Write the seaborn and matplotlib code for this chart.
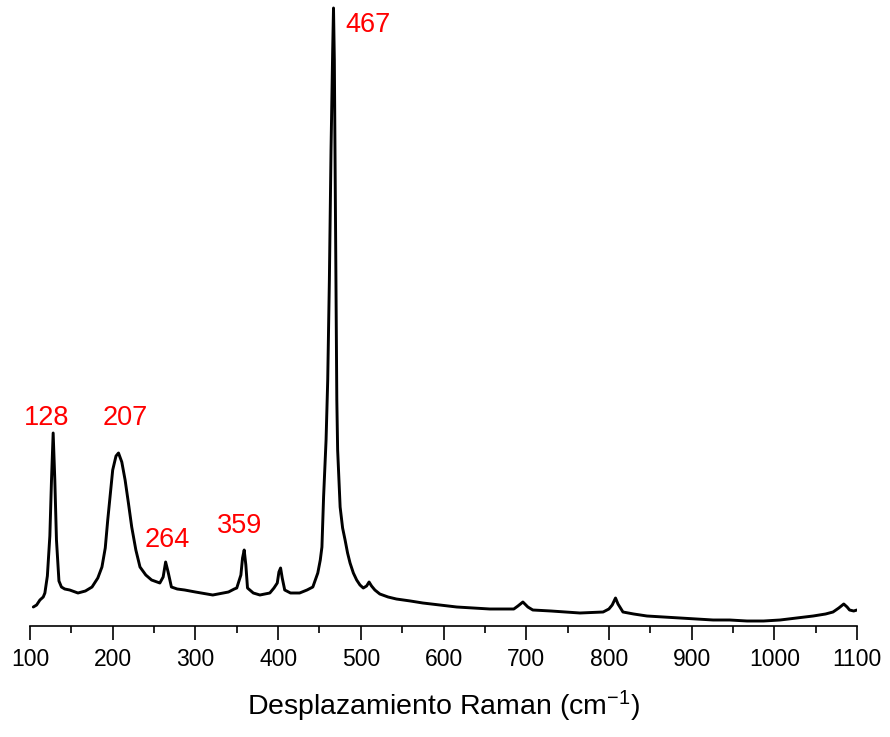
import pandas as pd
import matplotlib
matplotlib.use("Agg")
import matplotlib.pyplot as plt
from matplotlib.ticker import MultipleLocator
import seaborn as sns

# Raman shift (cm^-1) and intensity (a.u.) of the measured spectrum
shift = [104, 108, 112, 116, 118, 121, 124, 126, 128, 130, 132, 135, 138, 142,
         148, 158, 167, 175, 182, 187, 191, 194, 197, 200, 204, 207, 211, 215,
         219, 223, 228, 233, 240, 247, 257, 261, 264, 267, 271, 278, 287, 300,
         321, 340, 347, 350, 355, 357, 359, 361, 363, 370, 378, 390, 395, 399,
         401, 403, 405, 408, 415, 426, 435, 442, 448, 451, 453, 455, 458, 460,
         462, 464, 466, 467, 468, 469, 470, 471, 472, 475, 478, 481, 484, 487,
         491, 495, 499, 503, 507, 510, 513, 517, 523, 533, 543, 560, 575, 595,
         616, 636, 656, 675, 685, 690, 696, 702, 708, 730, 765, 793, 800, 804,
         808, 811, 817, 830, 846, 866, 886, 906, 926, 946, 967, 987, 1007, 1027,
         1047, 1062, 1071, 1078, 1084, 1088, 1091, 1096, 1100]
intensity = [19, 21, 26, 29, 33, 50, 90, 146, 193, 146, 86, 45, 39, 37,
             36, 33, 35, 39, 48, 59, 78, 106, 131, 156, 170, 173, 164, 146,
             123, 99, 76, 59, 51, 46, 43, 49, 64, 54, 39, 37, 36, 34,
             31, 34, 37, 38, 51, 68, 76, 61, 38, 33, 31, 33, 38, 43,
             54, 58, 48, 36, 33, 33, 36, 39, 53, 66, 79, 129, 186, 246,
             346, 476, 576, 618, 566, 456, 336, 226, 176, 119, 98, 86, 73, 63,
             53, 46, 41, 38, 40, 44, 40, 36, 32, 29, 27, 25, 23, 21,
             19, 18, 17, 17, 17, 20, 24, 19, 16, 15, 13, 14, 17, 21,
             28, 22, 14, 12, 10, 9, 8, 7, 6, 6, 5, 5, 6, 8,
             10, 12, 14, 18, 22, 19, 16, 15, 16]

# Labelled band positions (cm^-1)
band_labels = [128, 207, 264, 359, 467]
# Label offsets from each band maximum (points)
label_dx = [-5, 5, 1, -3, 25]
label_dy = [6, 20, 11, 12, -17]

sns.set_theme(style="white")
plt.rcParams["font.family"] = ["Liberation Sans", "DejaVu Sans"]
plt.rcParams["mathtext.fontset"] = "custom"
plt.rcParams["mathtext.rm"] = "Liberation Sans"
plt.rcParams["mathtext.it"] = "Liberation Sans:italic"
plt.rcParams["mathtext.bf"] = "Liberation Sans:bold"

df = pd.DataFrame({"shift": shift, "intensity": intensity})

fig = plt.figure(figsize=(8.9, 7.37), dpi=100)
ax = fig.add_axes([30 / 890, 111 / 737, 827 / 890, 620 / 737])

sns.lineplot(data=df, x="shift", y="intensity", ax=ax, color="black",
             linewidth=2.1, estimator=None)

ax.set_xlim(100, 1100)
ax.set_ylim(0, 620)
ax.xaxis.set_major_locator(MultipleLocator(100))
ax.xaxis.set_minor_locator(MultipleLocator(50))
ax.tick_params(axis="x", which="major", direction="out", length=10,
               width=1.2, color="black", labelsize=16.5, pad=6,
               bottom=True, labelcolor="black")
ax.tick_params(axis="x", which="minor", direction="out", length=5,
               width=1.2, color="black", bottom=True)
ax.set_yticks([])
for side in ("left", "right", "top"):
    ax.spines[side].set_visible(False)
ax.spines["bottom"].set_color("black")
ax.spines["bottom"].set_linewidth(1.2)

ax.set_xlabel("Desplazamiento Raman (cm$^{-1}$)", fontsize=20.5, labelpad=13,
              color="black")
ax.set_ylabel("")

lookup = dict(zip(shift, intensity))
for pos, dx, dy in zip(band_labels, label_dx, label_dy):
    ax.annotate(str(pos), xy=(pos, lookup[pos]), xytext=(dx, dy),
                textcoords="offset points", ha="center", va="baseline",
                fontsize=19.5, color="#ff0000")

fig.savefig("out.png", dpi=100)
